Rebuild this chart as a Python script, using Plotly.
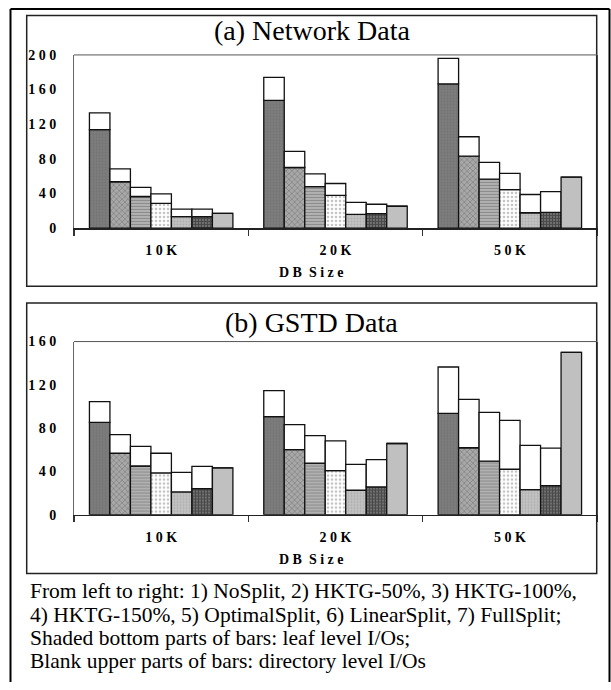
import plotly.graph_objects as go

W, H = 611, 690

categories = ["10K", "20K", "50K"]
category_labels = ["1 0 K", "2 0 K", "5 0 K"]
methods = ["NoSplit", "HKTG-50%", "HKTG-100%", "HKTG-150%", "OptimalSplit", "LinearSplit", "FullSplit"]

# (a) Network Data: total I/Os and leaf-level I/Os per method, per DB size
net_total = {
    "NoSplit":      [133, 174, 196],
    "HKTG-50%":     [68.5, 88.5, 105.5],
    "HKTG-100%":    [47, 62.5, 76],
    "HKTG-150%":    [39.5, 51.5, 63.3],
    "OptimalSplit": [21.8, 29.8, 38.8],
    "LinearSplit":  [21.8, 27.5, 42.2],
    "FullSplit":    [17, 25.2, 58.8],
}
net_leaf = {
    "NoSplit":      [113.7, 147.6, 166.5],
    "HKTG-50%":     [53.5, 70, 83],
    "HKTG-100%":    [36.5, 47.8, 56.5],
    "HKTG-150%":    [28.6, 37.7, 44.4],
    "OptimalSplit": [13.2, 15.8, 17.7],
    "LinearSplit":  [13.2, 16.6, 18.1],
    "FullSplit":    [17, 25.2, 58.8],
}
# (b) GSTD Data
gstd_total = {
    "NoSplit":      [104.5, 114.7, 136.5],
    "HKTG-50%":     [74, 83.3, 106.6],
    "HKTG-100%":    [63.1, 73.1, 94.5],
    "HKTG-150%":    [56.8, 68.2, 87.2],
    "OptimalSplit": [39.2, 46.5, 64],
    "LinearSplit":  [44.7, 51, 61.6],
    "FullSplit":    [43.2, 65.8, 150],
}
gstd_leaf = {
    "NoSplit":      [85.4, 90.6, 93.6],
    "HKTG-50%":     [56.8, 60.1, 61.9],
    "HKTG-100%":    [45, 47.7, 49.5],
    "HKTG-150%":    [38.6, 40.8, 42],
    "OptimalSplit": [21.1, 22.6, 23.2],
    "LinearSplit":  [24.2, 25.7, 26.9],
    "FullSplit":    [43.2, 65.8, 150],
}

net_ticks = [0, 40, 80, 120, 160, 200]
gstd_ticks = [0, 40, 80, 120, 160]

styles = {
    "NoSplit":      dict(color="#787878", pattern=dict(shape=".", fgcolor="#6a6a6a", bgcolor="#7c7c7c", size=3, solidity=0.3)),
    "HKTG-50%":     dict(color="#999999", pattern=dict(shape="x", fgcolor="#5e5e5e", bgcolor="#a8a8a8", size=4, solidity=0.35)),
    "HKTG-100%":    dict(color="#999999", pattern=dict(shape="-", fgcolor="#5a5a5a", bgcolor="#bdbdbd", size=3, solidity=0.5)),
    "HKTG-150%":    dict(color="#eeeeee", pattern=dict(shape=".", fgcolor="#8a8a8a", bgcolor="#ffffff", size=4, solidity=0.35)),
    "OptimalSplit": dict(color="#bbbbbb", pattern=dict(shape=".", fgcolor="#959595", bgcolor="#c4c4c4", size=3, solidity=0.4)),
    "LinearSplit":  dict(color="#444444", pattern=dict(shape="+", fgcolor="#202020", bgcolor="#707070", size=3, solidity=0.55)),
    "FullSplit":    dict(color="#c0c0c0", pattern=None),
}

FONT = "Liberation Serif, Times New Roman, serif"

def px(x):
    return x / W

def py(y):
    return 1 - y / H

fig = go.Figure()

def add_panel(total, leaf, xa, ya):
    for i, m in enumerate(methods):
        st = styles[m]
        mk = dict(color=st["color"], line=dict(color="#111111", width=1.3))
        if st["pattern"] is not None:
            mk["pattern"] = st["pattern"]
        fig.add_trace(go.Bar(
            x=categories, y=leaf[m], name=m, offsetgroup=str(i),
            marker=mk, xaxis=xa, yaxis=ya, showlegend=False, hoverinfo="skip"))
        upper = [t - l for t, l in zip(total[m], leaf[m])]
        fig.add_trace(go.Bar(
            x=categories, y=upper, base=leaf[m], name=m + " dir", offsetgroup=str(i),
            marker=dict(color="white", line=dict(color="#111111", width=1.3)),
            xaxis=xa, yaxis=ya, showlegend=False, hoverinfo="skip"))

add_panel(net_total, net_leaf, "x", "y")
add_panel(gstd_total, gstd_leaf, "x2", "y2")

xdom = [px(74), px(597)]
xcommon = dict(
    domain=xdom, type="category", categoryorder="array", categoryarray=categories,
    tickmode="array", tickvals=categories, ticktext=category_labels,
    tickson="boundaries", ticks="outside", ticklen=6, tickwidth=1.5, tickcolor="#333333",
    showline=True, linecolor="#222222", linewidth=1.5, showgrid=False, zeroline=False,
    tickfont=dict(family=FONT, size=14, color="black", weight="bold"),
    ticklabelstandoff=9, fixedrange=True,
)
ycommon = dict(
    showline=True, linecolor="#666666", linewidth=1, mirror=True, showgrid=False, zeroline=False,
    ticks="", tickfont=dict(family=FONT, size=14, color="black", weight="bold"),
    ticklabelstandoff=14, fixedrange=True,
)

fig.update_layout(
    width=W, height=H, margin=dict(l=0, r=0, t=0, b=0),
    paper_bgcolor="white", plot_bgcolor="white",
    barmode="group", bargap=0.177, bargroupgap=0,
    xaxis=dict(anchor="y", **xcommon),
    xaxis2=dict(anchor="y2", **xcommon),
    yaxis=dict(anchor="x", domain=[py(226), py(49)], range=[0, 200],
               tickmode="array", tickvals=net_ticks,
               ticktext=[" ".join(str(v)) for v in net_ticks], **ycommon),
    yaxis2=dict(anchor="x2", domain=[py(519), py(342)], range=[0, 160],
                tickmode="array", tickvals=gstd_ticks,
                ticktext=[" ".join(str(v)) for v in gstd_ticks], **ycommon),
    showlegend=False,
)

shapes = []
# outer frame
for (x0, y0, x1, y1) in [(10.5, 2, 10.5, 690), (10.5, 2, 609.5, 2), (609.5, 2, 609.5, 690)]:
    shapes.append(dict(type="line", xref="paper", yref="paper", x0=px(x0), y0=py(y0), x1=px(x1), y1=py(y1),
                       line=dict(color="black", width=2)))
# chart boxes
for (x0, y0, x1, y1) in [(26.7, 8.7, 596.7, 285.5), (26.7, 302.7, 596.7, 579)]:
    shapes.append(dict(type="rect", xref="paper", yref="paper", x0=px(x0), y0=py(y0), x1=px(x1), y1=py(y1),
                       line=dict(color="#222222", width=1.5)))
# plot-area top borders
for yy in [49, 342]:
    shapes.append(dict(type="line", xref="paper", yref="paper", x0=px(74), y0=py(yy), x1=px(597), y1=py(yy),
                       line=dict(color="#555555", width=1)))
fig.update_layout(shapes=shapes)

ann = []
ann.append(dict(text="(a) Network Data", x=px(311.7), y=py(24), xref="paper", yref="paper",
                showarrow=False, xanchor="center", yanchor="middle",
                font=dict(family=FONT, size=28, color="black")))
ann.append(dict(text="(b) GSTD Data", x=px(311.7), y=py(323), xref="paper", yref="paper",
                showarrow=False, xanchor="center", yanchor="middle",
                font=dict(family=FONT, size=28, color="black")))
for yy in [271, 565]:
    ann.append(dict(text="D B\u00a0 S i z e", x=px(311.7), y=py(yy), xref="paper", yref="paper",
                    showarrow=False, xanchor="center", yanchor="middle",
                    font=dict(family=FONT, size=14, color="black", weight="bold")))
notes = [
    "From left to right: 1) NoSplit, 2) HKTG-50%, 3) HKTG-100%,",
    "4) HKTG-150%, 5) OptimalSplit, 6) LinearSplit, 7) FullSplit;",
    "Shaded bottom parts of bars: leaf level I/Os;",
    "Blank upper parts of bars: directory level I/Os",
]
for k, t in enumerate(notes):
    ann.append(dict(text=t, x=px(28), y=py(597 + 24 * k), xref="paper", yref="paper",
                    showarrow=False, xanchor="left", yanchor="middle",
                    font=dict(family=FONT, size=21.5, color="black")))
fig.update_layout(annotations=ann)

fig.write_html("out.html", config={"displayModeBar": False, "staticPlot": True},
               post_script="document.body.style.margin='0';document.body.style.overflow='hidden';")
